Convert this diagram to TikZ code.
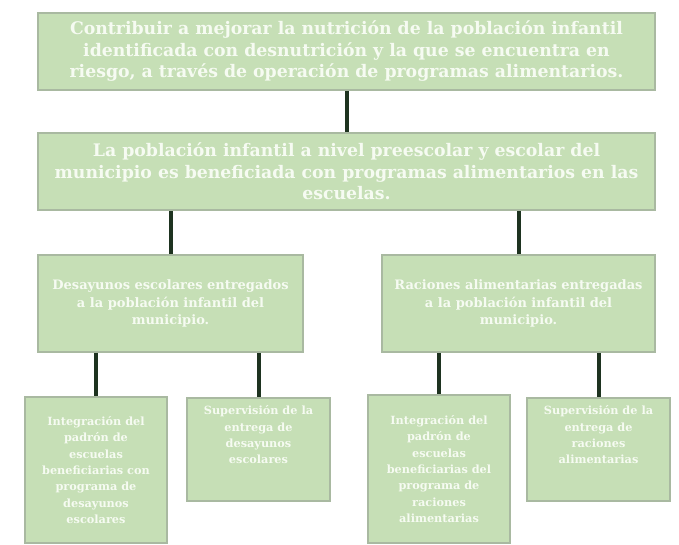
\documentclass[tikz,border=0pt]{standalone}
\usepackage{fontspec}
\setmainfont{DejaVu Serif}
\definecolor{boxfill}{HTML}{C6DFB6}
\definecolor{boxline}{HTML}{A9B9A1}
\definecolor{conncol}{HTML}{1E3320}
\definecolor{txtcol}{HTML}{F6FBF2}
\tikzset{
  box/.style={draw=boxline, line width=1.5pt, fill=boxfill, inner sep=1pt,
    align=center, text=txtcol, font=\bfseries},
  conn/.style={draw=conncol, line width=4pt}
}
\begin{document}
\begin{tikzpicture}[x=1pt,y=-1pt]
\useasboundingbox[fill=white] (0,0) rectangle (679,544);
\node[box, minimum width=617pt, minimum height=77pt, font=\bfseries\fontsize{17.3}{21.5}\selectfont] (top) at (346.5,51.5)
  {Contribuir a mejorar la nutrición de la población infantil\\
   identificada con desnutrición y la que se encuentra en\\
   riesgo, a través de operación de programas alimentarios.};
\node[box, minimum width=617pt, minimum height=77pt, font=\bfseries\fontsize{17.3}{21.5}\selectfont] (sec) at (346.5,171.5)
  {La población infantil a nivel preescolar y escolar del\\
   municipio es beneficiada con programas alimentarios en las\\
   escuelas.};
\node[box, minimum width=265pt, minimum height=97pt, font=\bfseries\fontsize{13}{17.5}\selectfont] (midl) at (170.5,303.5)
  {Desayunos escolares entregados\\ a la población infantil del\\ municipio.};
\node[box, minimum width=273pt, minimum height=97pt, font=\bfseries\fontsize{13}{17.5}\selectfont] (midr) at (518.5,303.5)
  {Raciones alimentarias entregadas\\ a la población infantil del\\ municipio.};
\node[box, minimum width=142pt, minimum height=146pt, font=\bfseries\fontsize{11.3}{16.3}\selectfont] (b1) at (96,470)
  {Integración del\\ padrón de\\ escuelas\\ beneficiarias con\\ programa de\\ desayunos\\ escolares};
\node[box, minimum width=143pt, minimum height=103pt, font=\bfseries\fontsize{11.3}{16.3}\selectfont, anchor=north] (b2) at (258.5,397)
  {\\[-8pt]Supervisión de la\\ entrega de\\ desayunos\\ escolares\\[12pt]};
\node[box, minimum width=142pt, minimum height=148pt, font=\bfseries\fontsize{11.3}{16.3}\selectfont] (b3) at (439,469)
  {Integración del\\ padrón de\\ escuelas\\ beneficiarias del\\ programa de\\ raciones\\ alimentarias};
\node[box, minimum width=143pt, minimum height=103pt, font=\bfseries\fontsize{11.3}{16.3}\selectfont, anchor=north] (b4) at (598.5,397)
  {\\[-8pt]Supervisión de la\\ entrega de\\ raciones\\ alimentarias\\[12pt]};
\draw[conn] (top.south) -- (sec.north);
\draw[conn] (midl.north |- sec.south) -- (midl.north);
\draw[conn] (midr.north |- sec.south) -- (midr.north);
\draw[conn] (b1.north |- midl.south) -- (b1.north);
\draw[conn] (b2.north |- midl.south) -- (b2.north);
\draw[conn] (b3.north |- midr.south) -- (b3.north);
\draw[conn] (b4.north |- midr.south) -- (b4.north);
\end{tikzpicture}
\end{document}
